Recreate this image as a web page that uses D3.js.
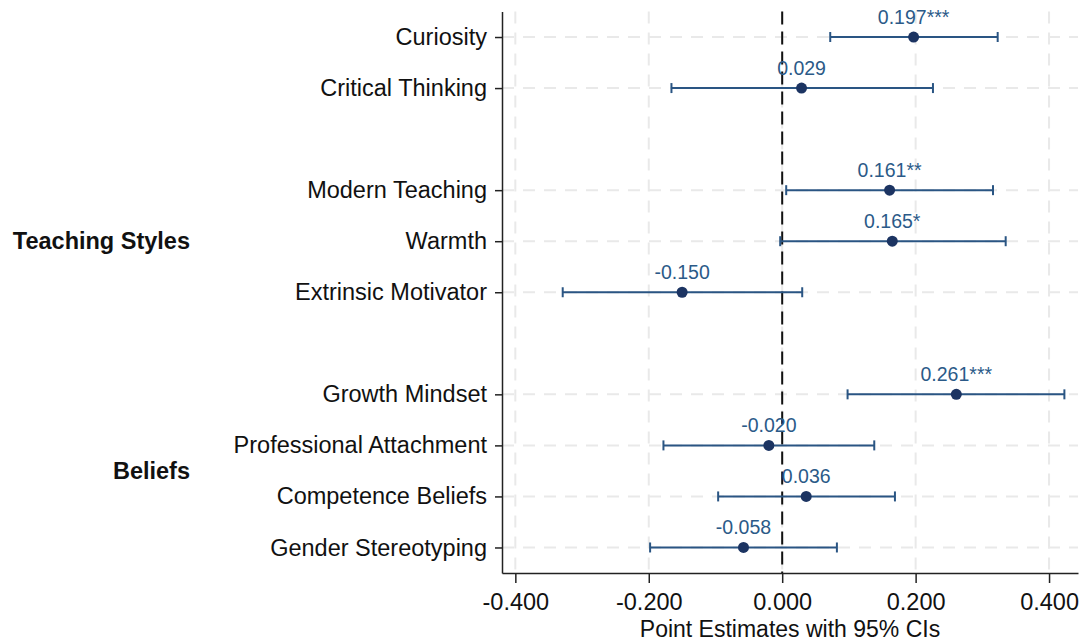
<!DOCTYPE html>
<html>
<head>
<meta charset="utf-8">
<script src="https://cdn.jsdelivr.net/npm/d3@7"></script>
<style>
  html, body { margin: 0; padding: 0; background: #ffffff; }
  svg { display: block; font-family: "Liberation Sans", Arial, Helvetica, sans-serif; }
</style>
</head>
<body>
<svg id="chart" width="1081" height="643"></svg>
<script>
// ---- data ----
const categories = ["Curiosity", "Critical Thinking", "Modern Teaching", "Warmth", "Extrinsic Motivator",
  "Growth Mindset", "Professional Attachment", "Competence Beliefs", "Gender Stereotyping"];
const slots = [1, 2, 4, 5, 6, 8, 9, 10, 11];
const estimates = [0.197, 0.029, 0.161, 0.165, -0.150, 0.261, -0.020, 0.036, -0.058];
const ciLow  = [0.072, -0.166, 0.006, -0.003, -0.329, 0.098, -0.178, -0.096, -0.198];
const ciHigh = [0.323, 0.226, 0.316, 0.335, 0.030, 0.423, 0.138, 0.169, 0.082];
const stars  = ["***", "", "**", "*", "", "***", "", "", ""];
const xTicks = [-0.4, -0.2, 0, 0.2, 0.4];
const groupLabels = ["Teaching Styles", "Beliefs"];
const groupSlots = [5, 9.5];
const xTitle = "Point Estimates with 95% CIs";

(function () {
const rows = categories.map((c, i) => ({
  name: c, slot: slots[i], est: estimates[i], lo: ciLow[i], hi: ciHigh[i], star: stars[i]
}));

const svg = d3.select("#chart");
const pLeft = 502, pRight = 1078, pTop = 11.5, pBottom = 573;

const x = d3.scaleLinear().domain([-0.42, 0.4434]).range([pLeft, pRight]);
const y = d3.scaleLinear().domain([0.5, 11.5]).range([pTop, pBottom]);

const gridColor = "#e9e9e9";
const lineColor = "#2a5583";
const dotColor = "#1c3462";
const textColor = "#2b5a88";
const fmt = d => d3.format(".3f")(d).replace("\u2212", "-");

// vertical gridlines
svg.append("g").selectAll("line").data(xTicks).join("line")
  .attr("x1", d => x(d)).attr("x2", d => x(d))
  .attr("y1", pTop).attr("y2", pBottom)
  .attr("stroke", gridColor).attr("stroke-width", 2)
  .attr("stroke-dasharray", "12,9");

// horizontal gridlines
svg.append("g").selectAll("line").data(rows).join("line")
  .attr("x1", pLeft).attr("x2", pRight)
  .attr("y1", d => y(d.slot)).attr("y2", d => y(d.slot))
  .attr("stroke", gridColor).attr("stroke-width", 2)
  .attr("stroke-dasharray", "12,9");

// zero reference line
svg.append("line")
  .attr("x1", x(0)).attr("x2", x(0))
  .attr("y1", pTop).attr("y2", pBottom)
  .attr("stroke", "#111").attr("stroke-width", 2)
  .attr("stroke-dasharray", "13,7");

// x axis
const xAxis = d3.axisBottom(x).tickValues(xTicks).tickFormat(fmt).tickSize(10).tickSizeOuter(0);
const gx = svg.append("g").attr("transform", `translate(0,${pBottom})`).call(xAxis);
gx.select(".domain").attr("stroke", "#222").attr("stroke-width", 1.5);
gx.selectAll(".tick line").attr("stroke", "#222").attr("stroke-width", 1.5);
gx.selectAll(".tick text")
  .attr("fill", "#111").attr("font-size", "23.5px").attr("dy", "1.0em")
  .attr("font-family", "'Liberation Sans', Arial, sans-serif");

// y axis
const yAxis = d3.axisLeft(y).tickValues(slots).tickFormat((d, i) => categories[i]).tickSize(7).tickSizeOuter(0);
const gy = svg.append("g").attr("transform", `translate(${pLeft},0)`).call(yAxis);
gy.select(".domain").attr("stroke", "#222").attr("stroke-width", 1.5);
gy.selectAll(".tick line").attr("stroke", "#222").attr("stroke-width", 1.5);
gy.selectAll(".tick text")
  .attr("fill", "#111").attr("font-size", "23.5px").attr("x", -15)
  .attr("font-family", "'Liberation Sans', Arial, sans-serif");

// axis title
svg.append("text")
  .attr("x", 790).attr("y", 637)
  .attr("text-anchor", "middle").attr("font-size", "23px").attr("fill", "#111")
  .text(xTitle);

// group labels
svg.append("g").selectAll("text").data(groupLabels).join("text")
  .attr("x", 190).attr("y", (d, i) => y(groupSlots[i]))
  .attr("dy", "0.35em").attr("text-anchor", "end")
  .attr("font-size", "23.5px").attr("font-weight", "bold").attr("fill", "#111")
  .text(d => d);

// CI bars
const g = svg.append("g");
g.selectAll("line.ci").data(rows).join("line").attr("class", "ci")
  .attr("x1", d => x(d.lo)).attr("x2", d => x(d.hi))
  .attr("y1", d => y(d.slot)).attr("y2", d => y(d.slot))
  .attr("stroke", lineColor).attr("stroke-width", 2);
g.selectAll("line.capL").data(rows).join("line").attr("class", "capL")
  .attr("x1", d => x(d.lo)).attr("x2", d => x(d.lo))
  .attr("y1", d => y(d.slot) - 5).attr("y2", d => y(d.slot) + 5)
  .attr("stroke", lineColor).attr("stroke-width", 2);
g.selectAll("line.capR").data(rows).join("line").attr("class", "capR")
  .attr("x1", d => x(d.hi)).attr("x2", d => x(d.hi))
  .attr("y1", d => y(d.slot) - 5).attr("y2", d => y(d.slot) + 5)
  .attr("stroke", lineColor).attr("stroke-width", 2);
g.selectAll("circle").data(rows).join("circle")
  .attr("cx", d => x(d.est)).attr("cy", d => y(d.slot)).attr("r", 5.5)
  .attr("fill", dotColor);

// value labels
g.selectAll("text.val").data(rows).join("text").attr("class", "val")
  .attr("x", d => x(d.est)).attr("y", d => y(d.slot) - 13)
  .attr("text-anchor", "middle").attr("font-size", "19.5px").attr("fill", textColor)
  .text(d => fmt(d.est) + d.star);
})();
</script>
</body>
</html>
